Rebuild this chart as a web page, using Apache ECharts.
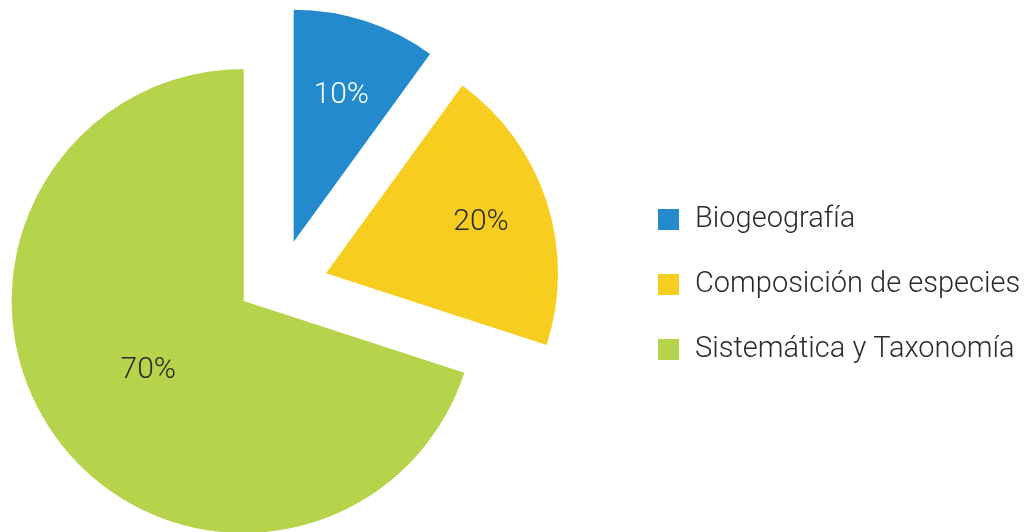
<!DOCTYPE html>
<html>
<head>
<meta charset="utf-8">
<script src="https://cdn.jsdelivr.net/npm/echarts@6/dist/echarts.min.js"></script>
<style>
    html, body { margin: 0; padding: 0; background: #fff; }
    #chart { width: 1031px; height: 532px; }
</style>
</head>
<body>
<div id="chart"></div>
<script>
// data
var categories = ['Biogeografía', 'Composición de especies', 'Sistemática y Taxonomía'];
var shares = [10, 20, 70];

// look
var colors = ['#238acd', '#f7cd1f', '#b5d44b'];
var labelColors = ['#ffffff', '#2b2b2b', '#2b2b2b'];
// each slice is pulled out on its own, so each one gets its own pie centre
var centers = [[293.7, 241.7], [326, 273.3], [243.7, 301]];
var labelDist = [151, 160, 115];
var pieRadius = 232;
var fontFamily = 'Roboto, "Open Sans", sans-serif';

function sliceSeries(idx) {
    return {
        type: 'pie',
        center: centers[idx],
        radius: [0, pieRadius],
        startAngle: 90,
        clockwise: true,
        silent: true,
        label: { show: false },
        labelLine: { show: false },
        emphasis: { disabled: true },
        data: categories.map(function(name, i) {
            return {
                name: name,
                value: shares[i],
                itemStyle: { color: colors[i], opacity: i === idx ? 1 : 0 }
            };
        })
    };
}

// invisible pie, only there to put the percent label at the right distance
function labelSeries(idx) {
    return {
        type: 'pie',
        center: centers[idx],
        radius: [0, labelDist[idx] * 2],
        startAngle: 90,
        clockwise: true,
        silent: true,
        labelLine: { show: false },
        emphasis: { disabled: true },
        itemStyle: { color: 'transparent', borderWidth: 0 },
        data: categories.map(function(name, i) {
            return {
                name: name,
                value: shares[i],
                label: {
                    show: i === idx,
                    position: 'inside',
                    formatter: '{d}%',
                    color: labelColors[i],
                    fontFamily: fontFamily,
                    fontWeight: 300,
                    fontSize: 30,
                    textBorderWidth: 0
                }
            };
        })
    };
}

var chart = echarts.init(document.getElementById('chart'));

var series = [];
for (var i = 0; i < categories.length; i++) {
    series.push(sliceSeries(i));
}
for (var j = 0; j < categories.length; j++) {
    series.push(labelSeries(j));
}

chart.setOption({
    animation: false,
    legend: {
        orient: 'vertical',
        left: 658,
        top: 205,
        padding: 0,
        itemWidth: 21,
        itemHeight: 21,
        itemGap: 36,
        icon: 'rect',
        selectedMode: false,
        textStyle: {
            fontFamily: fontFamily,
            fontWeight: 300,
            fontSize: 29,
            color: '#2b2b2b',
            padding: [0, 0, 0, 11]
        },
        data: categories.map(function(name, i) {
            return { name: name, itemStyle: { color: colors[i], opacity: 1 } };
        })
    },
    series: series
});

window.addEventListener('resize', function() {
    chart.resize();
});
</script>
</body>
</html>
